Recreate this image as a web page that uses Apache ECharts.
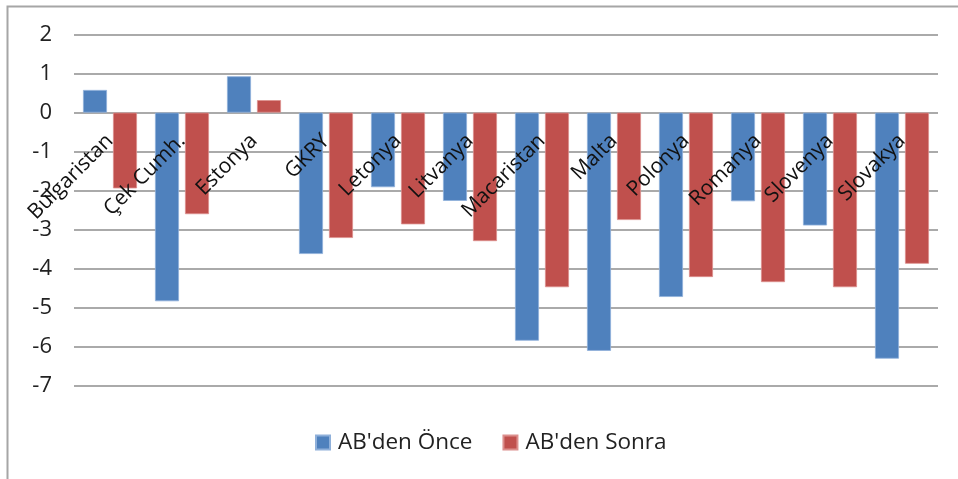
<!DOCTYPE html>
<html>
<head>
<meta charset="utf-8">
<script src="https://cdn.jsdelivr.net/npm/echarts@6/dist/echarts.min.js"></script>
<style>
  html, body { margin: 0; padding: 0; background: #fff; }
  #chart { width: 958px; height: 479px; }
</style>
</head>
<body>
<div id="chart"></div>
<script>
// Countries
var categories = ['Bulgaristan', 'Çek Cumh.', 'Estonya', 'GKRY', 'Letonya', 'Litvanya',
                  'Macaristan', 'Malta', 'Polonya', 'Romanya', 'Slovenya', 'Slovakya'];
// Series names
var seriesNames = ["AB'den Önce", "AB'den Sonra"];
// Values before EU accession
var beforeValues = [0.58, -4.83, 0.93, -3.62, -1.91, -2.26, -5.84, -6.10, -4.72, -2.27, -2.89, -6.30];
// Values after EU accession
var afterValues = [-1.94, -2.60, 0.32, -3.21, -2.86, -3.29, -4.47, -2.75, -4.21, -4.34, -4.47, -3.87];
// Value axis range
var yMin = -7, yMax = 2, yStep = 1;

var fontFamily = '"Open Sans", "Noto Sans", sans-serif';
var gridColor = '#8e8e8e';

// Plot box in pixels
var plotTop = 34.5, plotBottom = 93, plotH = 479 - plotTop - plotBottom;
// Shift the category axis up to the zero line
var zeroShift = -plotH * (0 - yMin) / (yMax - yMin);

var chart = echarts.init(document.getElementById('chart'), null, { renderer: 'canvas' });

chart.setOption({
  animation: false,
  backgroundColor: '#ffffff',
  textStyle: { fontFamily: fontFamily },
  graphic: [{
    type: 'rect',
    left: 5, top: 4,
    shape: { width: 970, height: 474 },
    style: { fill: 'none', stroke: '#a6a6a6', lineWidth: 2 },
    silent: true, z: -1
  }],
  grid: { left: 74, right: 20, top: plotTop, bottom: plotBottom, containLabel: false },
  legend: {
    data: seriesNames,
    left: 310, top: 426,
    itemWidth: 14, itemHeight: 14, itemGap: 30,
    icon: 'rect',
    textStyle: { fontSize: 22.5, color: '#222', fontFamily: fontFamily, padding: [0, 0, 0, 3] }
  },
  xAxis: {
    type: 'category',
    data: categories,
    position: 'bottom',
    offset: zeroShift,
    axisLine: { show: false, onZero: false },
    axisTick: { show: false },
    axisLabel: {
      rotate: 45, interval: 0, margin: 25,
      fontSize: 21, color: '#111', fontFamily: fontFamily
    },
    splitLine: { show: false },
    z: 5
  },
  yAxis: {
    type: 'value',
    min: yMin, max: yMax, interval: yStep,
    axisLine: { show: false },
    axisTick: { show: false },
    axisLabel: { fontSize: 22, color: '#222', margin: 22, fontFamily: fontFamily },
    splitLine: { lineStyle: { color: gridColor, width: 1.6 } }
  },
  series: [{
    name: seriesNames[0],
    type: 'bar',
    data: beforeValues,
    barWidth: 24,
    barGap: '25%',
    itemStyle: { color: '#4f81bd', borderColor: '#8fb0da', borderWidth: 0.8 }
  }, {
    name: seriesNames[1],
    type: 'bar',
    data: afterValues,
    barWidth: 24,
    itemStyle: { color: '#c0504d', borderColor: '#dc8f8d', borderWidth: 0.8 }
  }]
});
</script>
</body>
</html>
